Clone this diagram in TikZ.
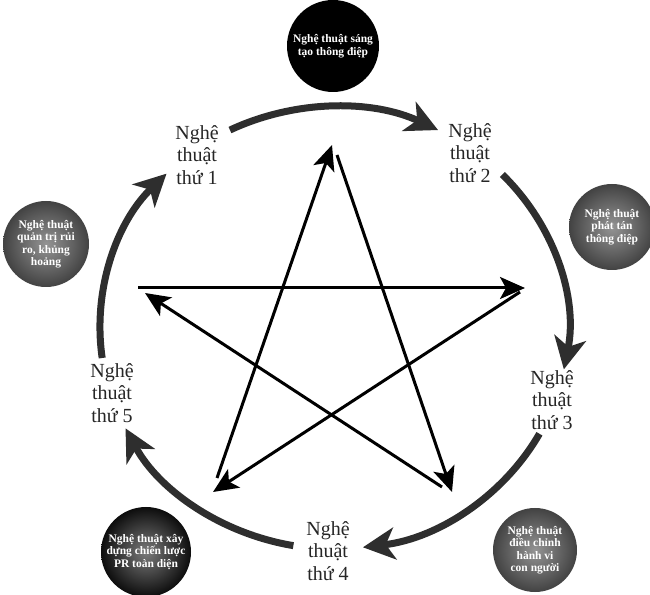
\documentclass[tikz,border=0pt]{standalone}
\usepackage{fontspec}
\setmainfont{Liberation Serif}
\usetikzlibrary{arrows.meta,calc}

\tikzset{
  ring/.style={line width=7pt, black!82, -{Stealth[length=32pt,width=32pt,inset=9pt]}},
  starline/.style={line width=3pt, -{Stealth[length=25pt,width=22pt,inset=6pt]}},
  stage/.style={align=center, text=black!85, font=\fontsize{20}{22.5}\selectfont},
  ball/.style={circle, inner sep=0pt, align=center, text=white, inner color=black!42, outer color=black!74,
    font=\bfseries\fontsize{11.5}{12.5}\selectfont},
}

\begin{document}
\begin{tikzpicture}[x=1pt,y=1pt]
        % \draw[help lines, gray!50, very thin] (0,0) grid[step=50] (650,594);
        \useasboundingbox (0,0) rectangle (650,594);

        \coordinate (c) at (334,266);

        % the five arts
        \node[stage] (s1) at (197,439) {Nghệ\\thuật\\thứ 1};
        \node[stage] (s2) at (470,441) {Nghệ\\thuật\\thứ 2};
        \node[stage] (s3) at (552,194) {Nghệ\\thuật\\thứ 3};
        \node[stage] (s4) at (328,43) {Nghệ\\thuật\\thứ 4};
        \node[stage] (s5) at (112,201) {Nghệ\\thuật\\thứ 5};

        % arrows round the ring
        \coordinate (r1) at ($(c)+(116.4:234pt and 221pt)$);
        \coordinate (r2) at ($(c)+(44:234pt and 221pt)$);
        \coordinate (r3) at ($(c)+(-28.6:234pt and 221pt)$);
        \coordinate (r4) at ($(c)+(-100:234pt and 221pt)$);
        \coordinate (r5) at ($(c)+(-172.2:234pt and 221pt)$);
        \draw[ring] (r1) arc[start angle=116.4, end angle=63.6, x radius=234pt, y radius=221pt];
        \draw[ring] (r2) arc[start angle=44, end angle=-10.8, x radius=234pt, y radius=221pt];
        \draw[ring] (r3) arc[start angle=-28.6, end angle=-82.9, x radius=234pt, y radius=221pt];
        \draw[ring] (r4) arc[start angle=-100, end angle=-153, x radius=234pt, y radius=221pt];
        \draw[ring] (r5) arc[start angle=-172.2, end angle=-224.3, x radius=234pt, y radius=221pt];

        % star
        \coordinate (topTip) at (332,449);
        \coordinate (topStart) at (337,439);
        \coordinate (brTip) at (452,102);
        \coordinate (brStart) at (442,107);
        \coordinate (leftTip) at (145,301);
        \coordinate (leftStart) at (138,306);
        \coordinate (rightTip) at (525,306);
        \coordinate (rightStart) at (520,302);
        \coordinate (blTip) at (213,102);
        \coordinate (blStart) at (217,116);
        \draw[starline] (blStart) -- (topTip);
        \draw[starline] (topStart) -- (brTip);
        \draw[starline] (brStart) -- (leftTip);
        \draw[starline] (leftStart) -- (rightTip);
        \draw[starline] (rightStart) -- (blTip);

        % balls
        \node[ball, minimum size=92pt, inner color=black, outer color=black] (b1) at (333,548) {Nghệ thuật sáng\\tạo thông điệp};
        \node[ball, minimum size=86pt] (b2) at (612,367) {Nghệ thuật\\phát tán\\thông điệp};
        \node[ball, minimum size=86pt] (b3) at (46,350) {Nghệ thuật\\quản trị rủi\\ro, khủng\\hoảng};
        \node[ball, minimum size=90pt, inner color=black!52, outer color=black!95] (b4) at (146,42) {Nghệ thuật xây\\dựng chiến lược\\PR toàn diện};
        \node[ball, minimum size=84pt] (b5) at (535,44) {Nghệ thuật\\điều chỉnh\\hành vi\\con người};
      \end{tikzpicture}
\end{document}
